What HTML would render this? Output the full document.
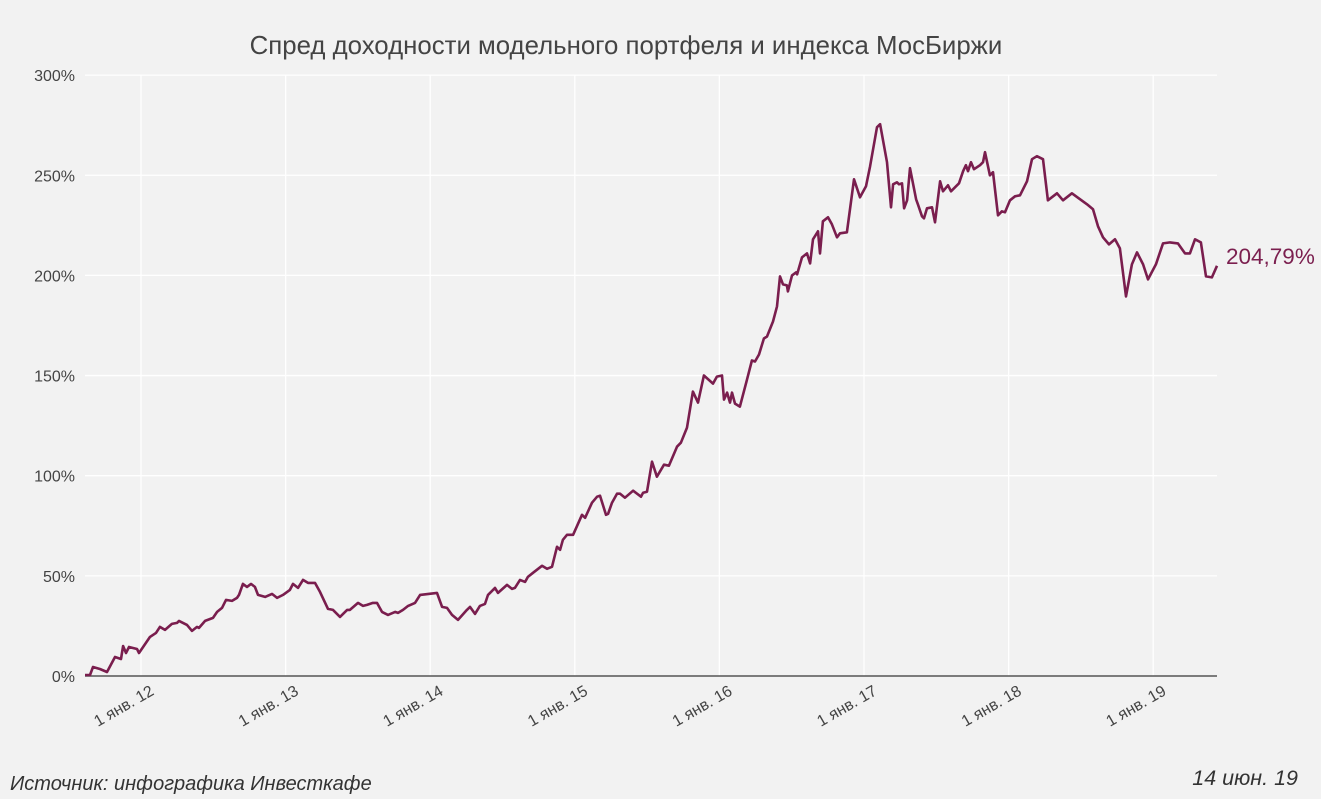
<!DOCTYPE html>
<html><head><meta charset="utf-8">
<style>
body{margin:0;background:#f2f2f2;font-family:"Liberation Sans",sans-serif;}
svg{display:block}
</style></head>
<body>
<svg id="chart" width="1321" height="799" xmlns="http://www.w3.org/2000/svg">
<rect width="1321" height="799" fill="#f2f2f2"/>
<text x="626" y="54" text-anchor="middle" font-size="25.8" fill="#444">Спред доходности модельного портфеля и индекса МосБиржи</text>
<g id="grid"></g><g id="yticks"></g><g id="xticks"></g><g id="series"></g>
<text x="1226" y="264" font-size="22.5" fill="#7b1f4f">204,79%</text>
<text x="10" y="790" font-size="20" font-style="italic" fill="#333">Источник: инфографика Инвесткафе</text>
<text x="1298" y="785" text-anchor="end" font-size="21.5" font-style="italic" fill="#333">14 июн. 19</text>
</svg>
<script>
const yTicks=[0,50,100,150,200,250,300];
const yTickLabels=["0%","50%","100%","150%","200%","250%","300%"];
const xTicks=[0,1,2,3,4,5,6,7];
const xTickLabels=["1 янв. 12","1 янв. 13","1 янв. 14","1 янв. 15","1 янв. 16","1 янв. 17","1 янв. 18","1 янв. 19"];
// years since 2012-01-01
const dates=[-0.387,-0.353,-0.332,-0.284,-0.235,-0.180,-0.138,-0.124,-0.104,-0.083,-0.028,-0.014,0.062,0.104,0.131,0.166,0.214,0.249,0.263,0.318,0.353,0.387,0.401,0.443,0.498,0.526,0.560,0.588,0.629,0.664,0.678,0.705,0.733,0.761,0.788,0.809,0.858,0.906,0.941,0.982,1.030,1.051,1.086,1.120,1.155,1.203,1.238,1.293,1.328,1.376,1.425,1.445,1.501,1.535,1.563,1.604,1.632,1.667,1.708,1.757,1.777,1.812,1.847,1.895,1.930,2.047,2.082,2.116,2.151,2.192,2.254,2.275,2.310,2.344,2.379,2.400,2.448,2.469,2.531,2.566,2.586,2.621,2.656,2.676,2.711,2.773,2.808,2.842,2.877,2.898,2.918,2.946,2.988,3.050,3.071,3.119,3.154,3.174,3.216,3.230,3.257,3.292,3.313,3.347,3.403,3.458,3.472,3.499,3.534,3.568,3.617,3.651,3.707,3.734,3.776,3.817,3.852,3.893,3.956,3.983,4.018,4.032,4.053,4.073,4.087,4.108,4.142,4.191,4.225,4.246,4.274,4.308,4.329,4.371,4.398,4.419,4.440,4.467,4.474,4.502,4.530,4.537,4.571,4.606,4.627,4.647,4.682,4.696,4.716,4.751,4.778,4.813,4.834,4.882,4.931,4.972,5.014,5.042,5.090,5.111,5.159,5.187,5.201,5.228,5.242,5.263,5.277,5.298,5.318,5.360,5.373,5.401,5.415,5.436,5.470,5.491,5.526,5.546,5.581,5.602,5.657,5.685,5.705,5.719,5.740,5.761,5.802,5.823,5.837,5.871,5.892,5.927,5.954,5.975,6.010,6.044,6.079,6.127,6.162,6.196,6.238,6.272,6.335,6.376,6.438,6.542,6.584,6.618,6.653,6.694,6.736,6.770,6.812,6.853,6.888,6.930,6.964,7.019,7.068,7.116,7.171,7.220,7.254,7.289,7.330,7.365,7.406,7.441];
const spread=[0.5,0.5,4.5,3.5,2,9.5,8.5,15,11.5,14.5,13.5,11.5,19.5,21.5,24.5,23,26,26.5,27.5,25.5,22.5,24.5,24,27.5,29,32,34,38,37.5,39,40.5,46,44.5,46,44.5,40.5,39.5,41,39,40.5,43,46,44,48,46.5,46.5,42,33.5,33,29.5,33,33,36.5,35,35.5,36.5,36.5,32,30.5,32,31.5,33,35,36.5,40.5,41.5,34.5,34,30.5,28,33,34.5,31,35,36,40.5,44,41.5,45.5,43.5,44,48,47,49.5,51.5,55,53.5,54.5,64.5,63,68,70.5,70.5,80.5,79,86.5,89.5,90,80.5,81,86.5,91,91,89,92.5,89.5,91.5,92,107,99.5,105.5,105,114.5,116.5,124,142,136.5,150,146,149.5,150,138,141.5,136.5,141.5,136,134.5,148,157.5,157,160.5,168.5,169.5,177,184.5,199.5,195.5,195,192,200,201.5,200.5,209,211,206,218,222,211,227,229,225.5,219,221,221.5,248,239,244.5,254.5,274,275.5,256.5,234,245.5,246.5,245.5,246,233.5,237.5,253.5,238,235.5,229.5,228.5,233.5,234,226.5,247,242,245,242,246,252,255,252,256.5,253,255,256.5,261.5,250,251.5,230,232,231.5,237.5,239.5,240,247,258,259.5,258,237.5,241,237.5,241,235.5,233,224.5,219,215.5,218,213.5,189.5,205.5,211.5,205.5,198,205.5,216,216.5,216,211,211,218,216.5,199.5,199,204.79];

const NS="http://www.w3.org/2000/svg";
const X0=85,X1=1217;
function xs(t){return 141+t*144.6;}
function ys(v){return 676-v*2.003;}
function mk(tag,attrs,parent){const e=document.createElementNS(NS,tag);for(const k in attrs)e.setAttribute(k,attrs[k]);parent.appendChild(e);return e;}
const grid=document.getElementById('grid'),yt=document.getElementById('yticks'),xt=document.getElementById('xticks'),ser=document.getElementById('series');
yTicks.forEach((v,i)=>{
  if(v!==0){const g=mk('line',{x1:X0,x2:X1,y1:ys(v),y2:ys(v),stroke:'#fff','stroke-width':1.3},grid);
  
  }
  const t=mk('text',{x:75,y:ys(v)+6,'text-anchor':'end','font-size':16,fill:'#444'},yt);
  t.textContent=yTickLabels[i];
  
  
});
xTicks.forEach((v,i)=>{
  const x=xs(v);
  const g=mk('line',{x1:x,x2:x,y1:ys(300),y2:676,stroke:'#fff','stroke-width':1.3},grid);
  
  
  const t=mk('text',{x:x+14,y:694,'text-anchor':'end','font-size':16,fill:'#444',transform:'rotate(-30 '+(x+14)+' 694)'},xt);
  t.textContent=xTickLabels[i];
  
  
});
const zl=mk('line',{x1:X0,x2:X1,y1:676,y2:676,stroke:'#555','stroke-width':1.5},grid);


const d=dates.map((t,i)=>(i?'L':'M')+xs(t).toFixed(1)+' '+ys(spread[i]).toFixed(1)).join(' ');
const p=mk('path',{d:d,fill:'none',stroke:'#7a1e4e','stroke-width':2.6,'stroke-linejoin':'round'},ser);


</script>
</body></html>
